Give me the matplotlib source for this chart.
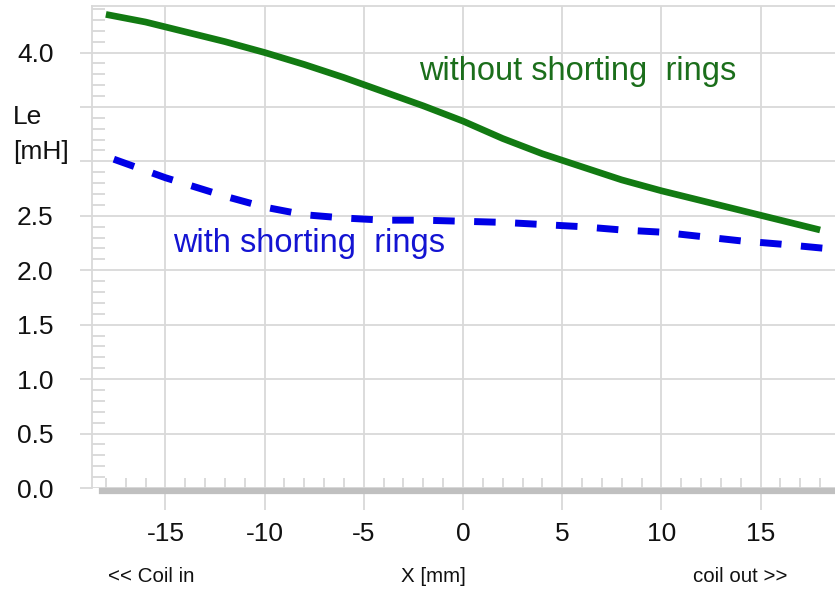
import matplotlib
matplotlib.use("Agg")
import matplotlib.pyplot as plt
from matplotlib.ticker import MultipleLocator

plt.rcParams['font.family'] = ['Liberation Sans', 'DejaVu Sans']

# Le (mH) along coil position X (mm)
x_without = [-18, -16, -14, -12, -10, -8, -6, -4, -2, 0, 2, 4, 6, 8, 10, 12, 14, 16, 18]
le_without = [4.35, 4.28, 4.19, 4.10, 4.00, 3.89, 3.77, 3.64, 3.51, 3.37, 3.21, 3.07,
              2.95, 2.83, 2.73, 2.64, 2.55, 2.46, 2.37]

x_with = [-17.6, -15, -12, -10, -8, -6, -4, -2, 0, 2, 4, 6, 8, 10, 12, 14, 16, 18.3]
le_with = [3.02, 2.85, 2.68, 2.58, 2.51, 2.48, 2.46, 2.46, 2.45, 2.44, 2.42, 2.40, 2.37, 2.35, 2.31, 2.27, 2.24, 2.20]

x_ticks = [-15, -10, -5, 0, 5, 10, 15]
y_ticks = [0.0, 0.5, 1.0, 1.5, 2.0, 2.5, 3.0, 3.5, 4.0]
y_labels = ["0.0", "0.5", "1.0", "1.5", "2.0", "2.5", "", "", "4.0"]

fig = plt.figure(figsize=(8.35, 5.89), dpi=100)
ax = fig.add_axes([92 / 835, 101 / 589, 1 - 92 / 835, (488 - 5.7) / 589])

grid_col = "#d9d9d9"

# curves
ax.plot(x_without, le_without, color="#127a12", lw=4.8, solid_capstyle="butt",
        solid_joinstyle="round", zorder=3)
ln, = ax.plot(x_with, le_with, color="#0000e6", lw=5, solid_capstyle="butt",
              dash_capstyle="butt", zorder=3)
ln.set_dashes((3.1, 2.8))

ax.text(-2.2, 3.83, "without shorting  rings", color="#1b6e1b", fontsize=23.5,
        va="center", ha="left")
ax.text(-14.6, 2.25, "with shorting  rings", color="#1414d2", fontsize=23.5,
        va="center", ha="left")

ax.set_xlim(-18.7, 18.75)
ax.set_ylim(0, 4.43)

ax.set_xticks(x_ticks)
ax.set_xticklabels([str(v) for v in x_ticks])
ax.set_yticks(y_ticks)
ax.set_yticklabels(y_labels)
ax.xaxis.set_minor_locator(MultipleLocator(1))
ax.yaxis.set_minor_locator(MultipleLocator(0.1))

ax.grid(True, which="major", color=grid_col, lw=1.3)
ax.set_axisbelow(True)

ax.tick_params(axis="both", which="major", labelsize=19, labelcolor="#111111",
               color=grid_col, width=1.3)
ax.tick_params(axis="y", which="major", direction="out", length=8.6, pad=19)
ax.tick_params(axis="x", which="major", direction="out", length=13.5, pad=9)
ax.tick_params(axis="both", which="minor", direction="in", length=9.5,
               color="#d4d4d4", width=1.2)

for s in ["left", "top"]:
    ax.spines[s].set_color(grid_col)
    ax.spines[s].set_linewidth(1.3)
ax.spines["right"].set_visible(False)
ax.spines["bottom"].set_color("#c0c0c0")
ax.spines["bottom"].set_linewidth(4.5)
ax.spines["bottom"].set_bounds(-18.2, 18.75)
ax.spines["bottom"].set_position(("outward", 2))

fig.text(13 / 835, 1 - 117 / 589, "Le", fontsize=19, va="center", ha="left", color="#111111")
fig.text(13 / 835, 1 - 152 / 589, "[mH]", fontsize=19, va="center", ha="left", color="#111111")

fig.text(108 / 835, 1 - 577 / 589, "<< Coil in", fontsize=14.8, va="center", ha="left", color="#111111")
fig.text(433 / 835, 1 - 577 / 589, "X [mm]", fontsize=14.8, va="center", ha="center", color="#111111")
fig.text(693 / 835, 1 - 577 / 589, "coil out >>", fontsize=14.8, va="center", ha="left", color="#111111")

fig.savefig("out.png", dpi=100)
